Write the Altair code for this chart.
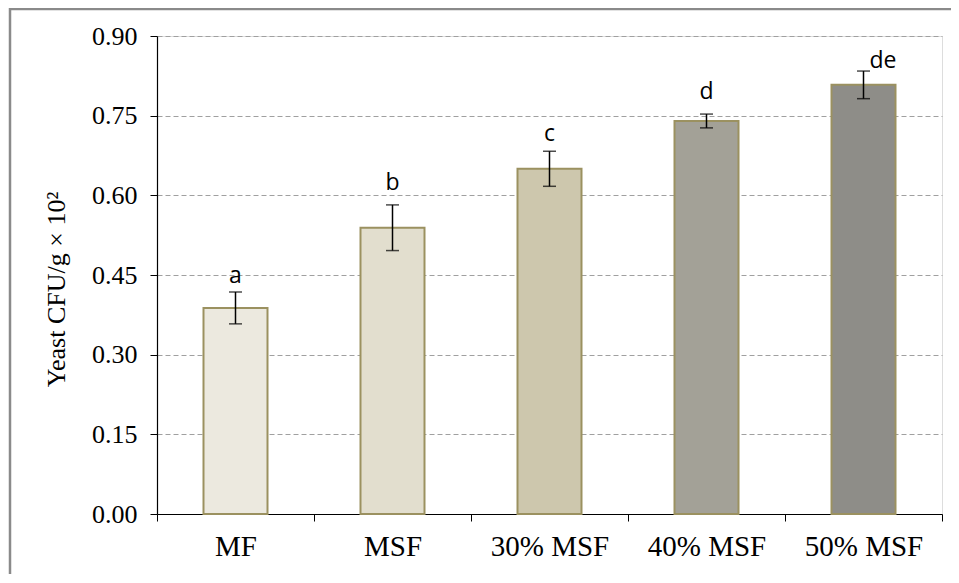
import altair as alt
import pandas as pd

categories = ["MF", "MSF", "30% MSF", "40% MSF", "50% MSF"]
means = [0.388, 0.539, 0.650, 0.740, 0.808]
errors = [0.030, 0.043, 0.033, 0.013, 0.026]
letters = ["a", "b", "c", "d", "de"]
letter_y = [0.435, 0.610, 0.702, 0.781, 0.839]
letter_side = ["center", "center", "center", "center", "right"]
fills = ["#ece9df", "#e2dece", "#cdc7ad", "#a3a197", "#8e8d88"]

df = pd.DataFrame({
    "cat": categories,
    "mean": means,
    "lo": [m - e for m, e in zip(means, errors)],
    "hi": [m + e for m, e in zip(means, errors)],
    "letter": letters,
    "ly": letter_y,
    "side": letter_side,
})

W, H = 785, 478

x = alt.X("cat:N", sort=categories, title=None,
          scale=alt.Scale(paddingInner=0, paddingOuter=0),
          axis=alt.Axis(labelFont="Liberation Serif", labelFontSize=29, labelColor="black",
                        labelAngle=0, labelPadding=11, domainColor="black", domainWidth=1.2,
                        tickColor="black", tickSize=7, tickBand="extent", grid=False))
yscale = alt.Scale(domain=[0, 0.9], nice=False, zero=True)

base = alt.Chart(df)

frame = alt.Chart(pd.DataFrame({"k": [0]})).mark_rect(
    fill=None, stroke="#8a8a8a", strokeWidth=2.5
).encode(x=alt.value(-147), x2=alt.value(1000), y=alt.value(-27), y2=alt.value(700))

bars = base.mark_bar(size=64, stroke="#9b9160", strokeWidth=2).encode(
    x=x,
    y=alt.Y("mean:Q", scale=yscale, title="Yeast CFU/g × 10²",
            axis=alt.Axis(values=[0, 0.15, 0.3, 0.45, 0.6, 0.75, 0.9], format=".2f",
                          labelFont="Liberation Serif", labelFontSize=26, labelColor="black",
                          labelPadding=13, titleFont="Liberation Serif", titleFontSize=26,
                          titleFontWeight="normal", titleColor="black", titlePadding=22,
                          titleY=H / 2 + 14,
                          domainColor="black", domainWidth=1.2, tickColor="black", tickSize=7,
                          grid=True, gridColor="#a0a0a0", gridDash=[5, 3], gridWidth=1)),
    fill=alt.Fill("cat:N", sort=categories, scale=alt.Scale(domain=categories, range=fills),
                  legend=None),
)

rule = base.mark_rule(color="black", strokeWidth=1.5).encode(
    x=alt.X("cat:N", sort=categories), y=alt.Y("lo:Q", scale=yscale), y2="hi:Q")
cap_hi = base.mark_tick(color="black", size=13, thickness=1.5, orient="horizontal").encode(
    x=alt.X("cat:N", sort=categories), y=alt.Y("hi:Q", scale=yscale))
cap_lo = base.mark_tick(color="black", size=13, thickness=1.5, orient="horizontal").encode(
    x=alt.X("cat:N", sort=categories), y=alt.Y("lo:Q", scale=yscale))

txt_c = base.transform_filter(alt.datum.side == "center").mark_text(
    font="Open Sans", fontSize=23, color="black", baseline="alphabetic", align="center"
).encode(x=alt.X("cat:N", sort=categories), y=alt.Y("ly:Q", scale=yscale), text="letter:N")
txt_r = base.transform_filter(alt.datum.side == "right").mark_text(
    font="Open Sans", fontSize=23, color="black", baseline="alphabetic", align="left", dx=6
).encode(x=alt.X("cat:N", sort=categories), y=alt.Y("ly:Q", scale=yscale), text="letter:N")

chart = alt.layer(frame, bars, rule, cap_hi, cap_lo, txt_c, txt_r).properties(
    width=W, height=H,
    autosize=alt.AutoSizeParams(type="none"),
    padding={"left": 149, "top": 28, "right": 9, "bottom": 60},
).configure_view(stroke=None).configure(background="white")

chart.save("out.html", embed_options={"renderer": "svg", "actions": False})
